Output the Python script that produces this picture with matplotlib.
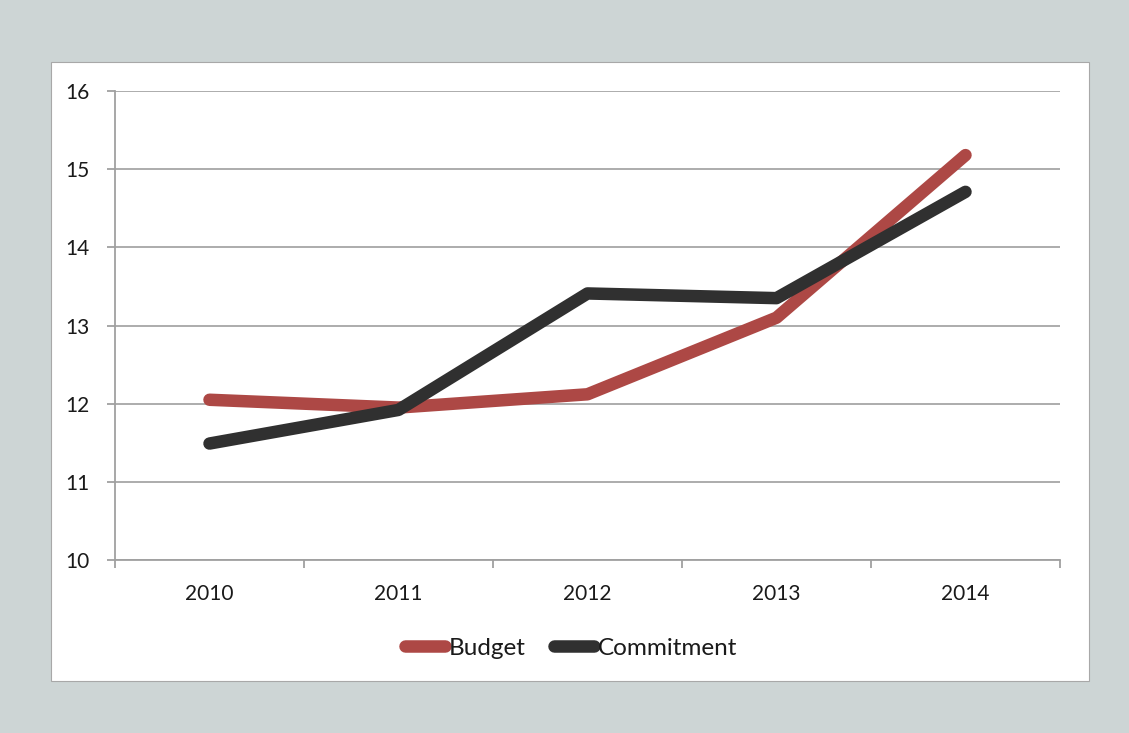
import matplotlib.pyplot as plt
from matplotlib.patches import Rectangle

# budget vs commitment per year
annees = ['2010', '2011', '2012', '2013', '2014']
budget = [12.05, 11.95, 12.12, 13.10, 15.18]
engagement = [11.49, 11.92, 13.41, 13.35, 14.71]

plt.rcParams['font.family'] = ['Lato', 'DejaVu Sans']

fig = plt.figure(figsize=(11.29, 7.33), dpi=100)
fig.patch.set_facecolor('#cdd5d5')

# panneau blanc derriere le graphique
panneau = Rectangle((51 / 1129, 1 - 681 / 733), (1089 - 51) / 1129, (681 - 62) / 733,
                    transform=fig.transFigure, facecolor='white',
                    edgecolor='#a8a8a8', linewidth=0.8, zorder=-1)
fig.patches.append(panneau)

ax = fig.add_axes([115 / 1129, 1 - 560 / 733, (1060 - 115) / 1129, (560 - 91) / 733])
ax.set_facecolor('none')

x = list(range(len(annees)))
ax.plot(x, budget, color='#ad4845', linewidth=9, solid_capstyle='round',
        solid_joinstyle='round', label='Budget', zorder=3)
ax.plot(x, engagement, color='#303030', linewidth=9, solid_capstyle='round',
        solid_joinstyle='round', label='Commitment', zorder=4)

ax.set_xlim(-0.5, len(annees) - 0.5)
ax.set_ylim(10, 16)
ax.set_yticks(range(10, 17))
ax.set_xticks(x)
ax.set_xticklabels(annees)
ax.set_xticks([i - 0.5 for i in range(len(annees) + 1)], minor=True)

ax.grid(axis='y', color='#a6a6a6', linewidth=1.3)
ax.set_axisbelow(True)

for cote in ['top', 'right']:
    ax.spines[cote].set_visible(False)
for cote in ['left', 'bottom']:
    ax.spines[cote].set_color('#a0a0a0')
    ax.spines[cote].set_linewidth(1.3)

ax.tick_params(axis='y', length=6, width=1.3, color='#a0a0a0', pad=12,
               labelsize=15, labelcolor='#1a1a1a')
ax.tick_params(axis='x', which='major', length=0, pad=17,
               labelsize=15, labelcolor='#1a1a1a')
ax.tick_params(axis='x', which='minor', length=6, width=1.3, color='#a0a0a0')

fig.legend(loc='center', bbox_to_anchor=(571 / 1129, 1 - 648 / 733), ncol=2,
           frameon=False, fontsize=17.5, handlelength=1.65, handletextpad=0.15,
           columnspacing=1.2, labelcolor='#1a1a1a')

fig.savefig('out.png', dpi=100, facecolor=fig.get_facecolor())
